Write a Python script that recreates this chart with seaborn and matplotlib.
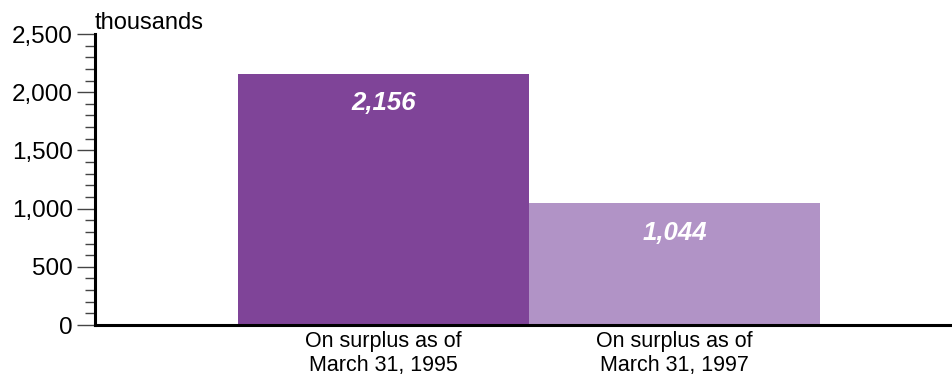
import matplotlib
matplotlib.use("Agg")
import matplotlib.pyplot as plt
import seaborn as sns
import pandas as pd
from matplotlib.ticker import MultipleLocator, FuncFormatter

categories = ["On surplus as of\nMarch 31, 1995", "On surplus as of\nMarch 31, 1997"]
values = [2156, 1044]
value_labels = ["2,156", "1,044"]
colors = ["#7f4498", "#b193c6"]

sns.set_theme(style="white")
plt.rcParams['font.family'] = ['Liberation Sans', 'DejaVu Sans']

df = pd.DataFrame({"cat": categories, "val": values})

fig = plt.figure(figsize=(9.53, 3.81), dpi=100)
ax = fig.add_axes([95/953, 1 - 325/381, (953-95)/953 + 0.01, (325-34)/381])

sns.barplot(data=df, x="cat", y="val", hue="cat", palette=colors, width=1.0,
            legend=False, ax=ax, saturation=1, linewidth=0)

ax.set_xlim(-0.993, 1.99)
ax.set_ylim(0, 2500)
ax.yaxis.set_major_locator(MultipleLocator(500))
ax.yaxis.set_minor_locator(MultipleLocator(100))
ax.yaxis.set_major_formatter(FuncFormatter(lambda v, p: f"{int(v):,}"))
ax.tick_params(axis='y', which='major', length=13, width=1, color='#444444',
               labelsize=17.5, labelcolor='black', pad=3, left=True)
ax.tick_params(axis='y', which='minor', length=7, width=1, color='#444444', left=True)
ax.tick_params(axis='x', length=0, labelsize=15.5, labelcolor='black', pad=4)
ax.set_xlabel("")
ax.set_ylabel("")

for s in ["top", "right"]:
    ax.spines[s].set_visible(False)
for s in ["left", "bottom"]:
    ax.spines[s].set_visible(True)
    ax.spines[s].set_color("black")
    ax.spines[s].set_linewidth(2.2)

for i, (v, lab) in enumerate(zip(values, value_labels)):
    ax.annotate(lab, (i, v), xytext=(0, -21), textcoords="offset points",
                ha="center", va="center", color="white", fontsize=18.5,
                fontweight="bold", fontstyle="italic")

ax.text(0.0, 1.0, "thousands", transform=ax.transAxes, ha="left", va="bottom",
        fontsize=17, color="black")

fig.savefig("out.png", dpi=100)
